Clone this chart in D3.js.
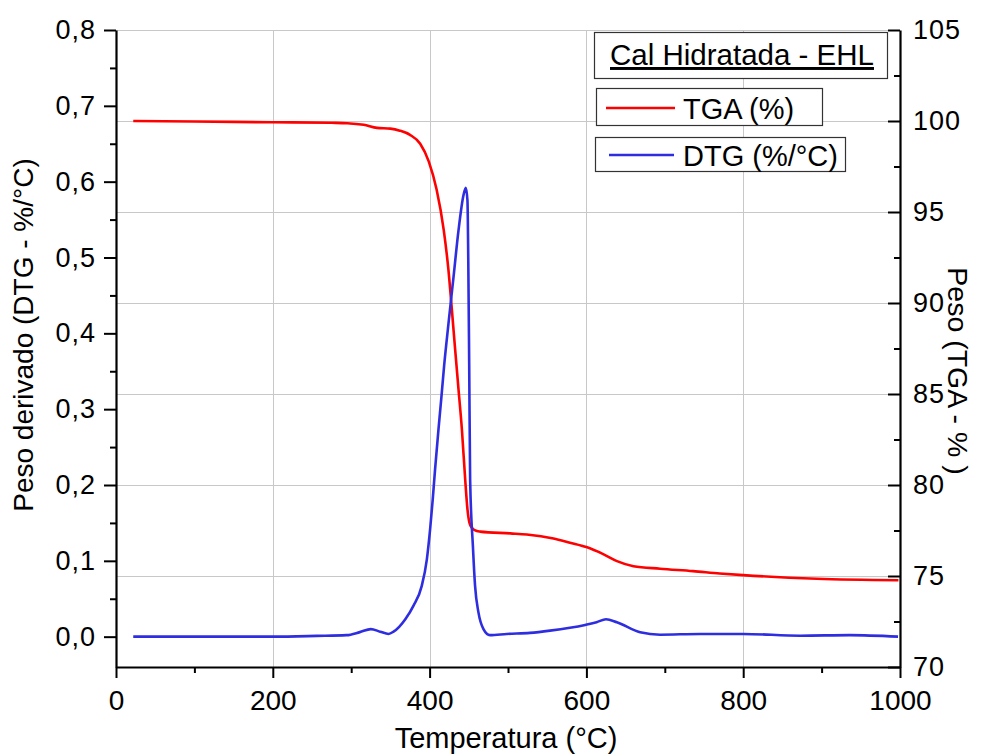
<!DOCTYPE html>
<html>
<head>
<meta charset="utf-8">
<script src="https://cdn.jsdelivr.net/npm/d3@7"></script>
<style>
  html, body { margin: 0; padding: 0; background: #fff; }
  svg { display: block; }
  text { font-family: Arial, "Liberation Sans", sans-serif; fill: #000; }
</style>
</head>
<body>
<svg id="chart" width="982" height="755"></svg>
<script>
// Thermogravimetric curve (weight %, right axis)
const tgaTemp = [22, 100, 200, 275, 295, 316, 333, 350, 362, 375, 388, 399, 409, 418, 424, 428.4, 432.6, 436.9, 441.2, 445.4, 448.3, 450.8, 453.9, 460.3, 464.5, 503, 524, 558, 579, 600, 622, 639, 660, 694, 736, 770, 800, 894, 998];
const tgaValue = [100.00, 99.97, 99.93, 99.90, 99.88, 99.79, 99.62, 99.58, 99.47, 99.24, 98.75, 97.77, 96.22, 94.02, 91.83, 89.63, 87.44, 85.24, 83.05, 80.30, 78.66, 77.93, 77.65, 77.47, 77.44, 77.34, 77.28, 77.06, 76.83, 76.59, 76.19, 75.82, 75.54, 75.40, 75.27, 75.14, 75.05, 74.85, 74.77];

// Derivative curve (%/°C, left axis)
const dtgTemp = [22, 100, 200, 256, 294, 311, 325, 337, 347.6, 354, 369, 379.5, 390, 396.5, 400.7, 404, 407, 411.3, 414.8, 418.6, 424.1, 430.5, 436.9, 443.2, 446.2, 448.3, 449.3, 450.5, 451.7, 455.2, 458, 462.3, 468.7, 477, 498.5, 528, 553.6, 598.4, 613, 625, 638.8, 668.5, 694, 745, 800, 872.6, 936, 997.5];
const dtgValue = [0.000, 0.000, 0.000, 0.001, 0.002, 0.006, 0.010, 0.0066, 0.0036, 0.0066, 0.023, 0.041, 0.067, 0.102, 0.142, 0.181, 0.221, 0.273, 0.313, 0.358, 0.413, 0.474, 0.536, 0.582, 0.592, 0.575, 0.50, 0.36, 0.207, 0.120, 0.067, 0.032, 0.010, 0.002, 0.0036, 0.005, 0.008, 0.0155, 0.019, 0.023, 0.019, 0.0058, 0.0026, 0.0036, 0.0036, 0.0013, 0.002, 0.000];

const xTicks = [0, 200, 400, 600, 800, 1000];
const xMinorTicks = [100, 300, 500, 700, 900];
const leftTicks = [0.0, 0.1, 0.2, 0.3, 0.4, 0.5, 0.6, 0.7, 0.8];
const leftMinorTicks = [0.05, 0.15, 0.25, 0.35, 0.45, 0.55, 0.65, 0.75];
const rightTicks = [70, 75, 80, 85, 90, 95, 100, 105];
const rightMinorTicks = [72.5, 77.5, 82.5, 87.5, 92.5, 97.5, 102.5];

const seriesNames = ["TGA (%)", "DTG (%/°C)"];
const seriesColors = ["#ff0000", "#2e2ee0"];
const legendTitle = "Cal Hidratada - EHL";
const xTitle = "Temperatura (°C)";
const leftTitle = "Peso derivado (DTG - %/°C)";
const rightTitle = "Peso (TGA - % )";

const plot = { left: 116, right: 900, top: 30, bottom: 667 };
const svg = d3.select("#chart");

const x = d3.scaleLinear().domain([0, 1000]).range([plot.left, plot.right]);
const yL = d3.scaleLinear().domain([-0.04, 0.8]).range([plot.bottom, plot.top]);
const yR = d3.scaleLinear().domain([70, 105]).range([plot.bottom, plot.top]);

const comma = d => d3.format(".1f")(d).replace(".", ",");

// grid
const grid = svg.append("g").attr("stroke", "#c8c8c8").attr("stroke-width", 1);
grid.selectAll("line.v").data(xTicks.slice(1, -1)).join("line")
  .attr("x1", d => Math.round(x(d)) + 0.5).attr("x2", d => Math.round(x(d)) + 0.5)
  .attr("y1", plot.top).attr("y2", plot.bottom);
grid.selectAll("line.h").data(rightTicks.slice(1)).join("line")
  .attr("x1", plot.left).attr("x2", plot.right)
  .attr("y1", d => Math.round(yR(d)) + 0.5).attr("y2", d => Math.round(yR(d)) + 0.5);

// curves
const lineTGA = d3.line().x(d => x(d[0])).y(d => yR(d[1])).curve(d3.curveMonotoneX);
const lineDTG = d3.line().x(d => x(d[0])).y(d => yL(d[1])).curve(d3.curveMonotoneX);
svg.append("path").datum(d3.zip(tgaTemp, tgaValue)).attr("d", lineTGA)
  .attr("fill", "none").attr("stroke", seriesColors[0]).attr("stroke-width", 2.6).attr("stroke-linejoin", "round");
svg.append("path").datum(d3.zip(dtgTemp, dtgValue)).attr("d", lineDTG)
  .attr("fill", "none").attr("stroke", seriesColors[1]).attr("stroke-width", 2.6).attr("stroke-linejoin", "round");

// axes
function styleAxis(g) {
  g.selectAll(".domain").attr("stroke", "#000").attr("stroke-width", 2.2);
  g.selectAll(".tick line").attr("stroke", "#000").attr("stroke-width", 2);
}

const gx = svg.append("g").attr("transform", `translate(0,${plot.bottom})`)
  .call(d3.axisBottom(x).tickValues(xTicks).tickSize(11).tickSizeOuter(0).tickPadding(12).tickFormat(d3.format("d")));
gx.selectAll("text").attr("font-size", 28);
styleAxis(gx);
const gxm = svg.append("g").attr("transform", `translate(0,${plot.bottom})`)
  .call(d3.axisBottom(x).tickValues(xMinorTicks).tickSize(6).tickSizeOuter(0).tickFormat(""));
gxm.select(".domain").remove();
styleAxis(gxm);

const gl = svg.append("g").attr("transform", `translate(${plot.left},0)`)
  .call(d3.axisLeft(yL).tickValues(leftTicks).tickSize(12).tickSizeOuter(0).tickPadding(8).tickFormat(comma));
gl.selectAll("text").attr("font-size", 27).attr("letter-spacing", 1);
styleAxis(gl);
const glm = svg.append("g").attr("transform", `translate(${plot.left},0)`)
  .call(d3.axisLeft(yL).tickValues(leftMinorTicks).tickSize(6).tickSizeOuter(0).tickFormat(""));
glm.select(".domain").remove();
styleAxis(glm);

const gr = svg.append("g").attr("transform", `translate(${plot.right},0)`)
  .call(d3.axisRight(yR).tickValues(rightTicks).tickSize(-12).tickSizeOuter(0).tickPadding(13).tickFormat(d3.format("d")));
gr.selectAll("text").attr("font-size", 27).attr("letter-spacing", 1);
styleAxis(gr);
const grm = svg.append("g").attr("transform", `translate(${plot.right},0)`)
  .call(d3.axisRight(yR).tickValues(rightMinorTicks).tickSize(-6).tickSizeOuter(0).tickFormat(""));
grm.select(".domain").remove();
styleAxis(grm);

// axis titles
svg.append("text").attr("x", 506).attr("y", 748).attr("text-anchor", "middle")
  .attr("font-size", 29).text(xTitle);
svg.append("text").attr("transform", "translate(33,335) rotate(-90)").attr("text-anchor", "middle")
  .attr("font-size", 28).text(leftTitle);
svg.append("text").attr("transform", "translate(948,371) rotate(90)").attr("text-anchor", "middle")
  .attr("font-size", 28.5).text(rightTitle);

// legend
const lg = svg.append("g");
lg.append("rect").attr("x", 594.5).attr("y", 32.5).attr("width", 293).attr("height", 46)
  .attr("fill", "#fff").attr("stroke", "#333").attr("stroke-width", 1.2);
lg.append("text").attr("x", 610).attr("y", 65).attr("font-size", 29.5)
  .style("text-decoration", "underline").text(legendTitle);

const entries = [
  { box: [596.5, 88.5, 226, 37], line: [606, 675, 108], text: [683, 119] },
  { box: [595.5, 137.5, 250, 34], line: [609, 674, 155], text: [683, 166] }
];
entries.forEach((e, i) => {
  lg.append("rect").attr("x", e.box[0]).attr("y", e.box[1]).attr("width", e.box[2]).attr("height", e.box[3])
    .attr("fill", "#fff").attr("stroke", "#333").attr("stroke-width", 1.2);
  lg.append("line").attr("x1", e.line[0]).attr("x2", e.line[1]).attr("y1", e.line[2]).attr("y2", e.line[2])
    .attr("stroke", seriesColors[i]).attr("stroke-width", 2.6);
  lg.append("text").attr("x", e.text[0]).attr("y", e.text[1]).attr("font-size", 29).text(seriesNames[i]);
});
</script>
</body>
</html>
